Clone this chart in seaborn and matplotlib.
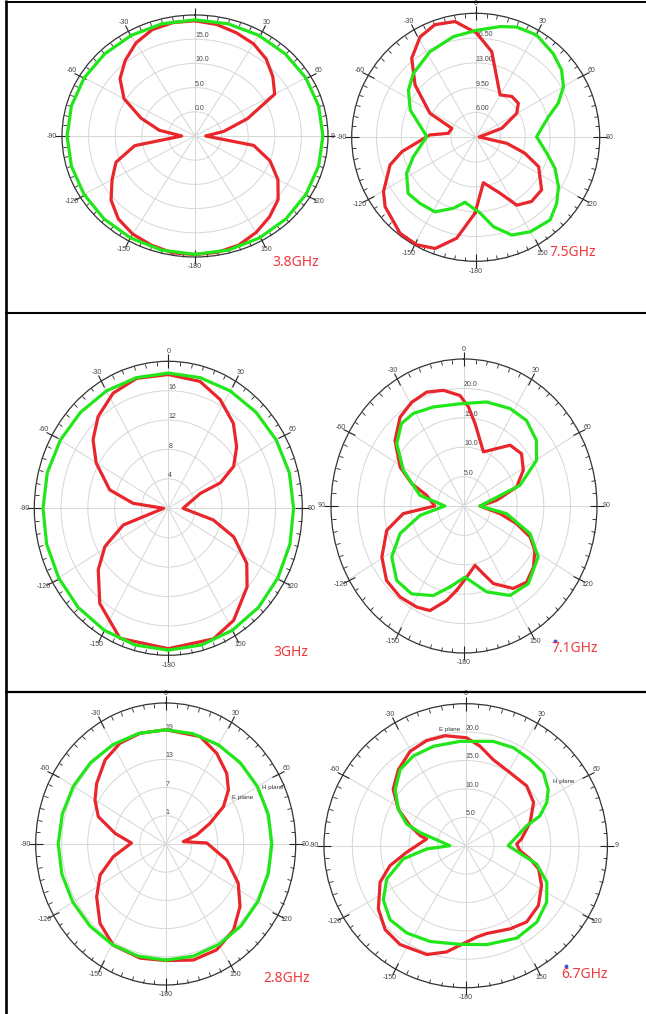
import numpy as np
import matplotlib
matplotlib.use("Agg")
import matplotlib.pyplot as plt
from matplotlib.lines import Line2D
from matplotlib.ticker import FixedLocator
import seaborn as sns

# ---------------- measured radiation patterns (angle in deg, gain in dB) ----------------
# 3.8 GHz
ang_38_e = [-180, -170, -160, -150, -140, -130, -120, -110, -100, -90, -80, -70, -60, -50, -40, -30,
            -20, -10, 0, 10, 20, 30, 40, 50, 60, 70, 80, 90, 100, 110, 120, 130, 140, 150, 160, 170]
gain_38_e = [19.5, 19.5, 19.0, 18.4, 17.4, 15.6, 13.0, 10.8, 6.5, -2.5, 1.8, 5.8, 10.4, 13.4, 15.4, 17.2,
             18.4, 18.8, 18.8, 18.4, 17.7, 17.0, 15.8, 14.1, 12.3, 5.5, 0.5, -3.0, 6.2, 10.0, 13.0, 15.4,
             16.8, 18.0, 19.0, 19.4]
ang_38_h = [-180, -165, -150, -135, -120, -105, -90, -75, -60, -45, -30, -15,
            0, 15, 30, 45, 60, 75, 90, 105, 120, 135, 150, 165]
gain_38_h = [19.45, 19.4, 19.3, 19.2, 19.1, 19.05, 19.05, 19.05, 19.05, 19.0, 19.0, 19.0,
             19.0, 19.0, 19.0, 19.0, 19.05, 19.05, 19.05, 19.05, 19.1, 19.2, 19.3, 19.4]

# 7.5 GHz
ang_75_e = [-179.5, -169.3, -160, -151.3, -141.8, -127.4, -120.5, -107.9, -101, -87.1, -81.7, -69.4,
            -62.3, -49.2, -39, -29, -19.9, -10.1, 0.5, 10.6, 29.9, 41.5, 51.4, 59.7, 70.9, 85,
            101, 108, 115, 128.6, 139, 148.8, 156.5, 170.4]
gain_75_e = [13.2, 17.0, 19.2, 19.8, 19.75, 18.6, 17.6, 15.2, 13.1, 9.0, 6.4, 6.1,
             9.8, 13.8, 16.85, 18.7, 19.4, 19.1, 17.2, 14.8, 9.4, 10.2, 10.2, 9.2, 6.4, 3.0,
             7.0, 9.8, 12.3, 14.4, 14.5, 13.7, 11.1, 9.0]
ang_75_h = [-170.7, -162.5, -151.3, -139.9, -129.7, -117.5, -107.2, -89.2, -67.4, -54.9, -44.2, -28.1,
            -12.5, 0.5, 12.4, 20.4, 30.8, 42.8, 51.9, 60, 67.6, 74.1, 89.4, 102.7, 111.3, 120.8,
            129.2, 138, 150, 159.8, 168.8, 176.7]
gain_75_h = [11.8, 13.0, 14.5, 14.7, 14.9, 13.5, 11.7, 9.4, 12.5, 14.1, 15.1, 16.2,
             17.05, 17.6, 18.5, 19.1, 19.3, 18.6, 17.9, 16.8, 15.1, 13.2, 11.1, 12.8, 14.5, 16.1,
             17.25, 18.2, 17.9, 17.2, 15.35, 13.2]

# 3 GHz
ang_30_e = [-180, -157.8, -141.7, -128.7, -118.8, -108.7, -90, -82.6, -74, -60.2, -50.3, -40, -27.7,
            -15, 0, 15.3, 27.6, 40, 50.6, 59.7, 66, 67, 90, 103.3, 111.7, 122.6, 132.3, 147.4, 159.2]
gain_30_e = [19.1, 19.1, 16.5, 13.4, 10.8, 7.1, 0.7, 5.3, 9.1, 12.4, 14.6, 16.3, 17.7,
             18.3, 18.2, 17.9, 16.7, 15.1, 13.2, 11.3, 8.5, 5.2, 2.2, 6.9, 10.5, 13.9, 15.9, 18.1, 19.0]
ang_30_h = [-180, -165, -150, -135, -120, -105, -90, -75, -60, -45, -30, -15,
            0, 15, 30, 45, 60, 75, 90, 105, 120, 135, 150, 165]
gain_30_h = [19.3, 19.25, 19.15, 19.05, 18.9, 18.8, 18.7, 18.7, 18.6, 18.5, 18.45, 18.4,
             18.4, 18.4, 18.45, 18.5, 18.6, 18.7, 18.7, 18.8, 18.9, 19.05, 19.15, 19.25]

# 7.1 GHz
ang_71_e = [-174.5, -168.5, -160.2, -152.6, -142.2, -131, -119.3, -105.9, -96.5, -90, -75.5, -68.9,
            -61.2, -49.3, -38.5, -29.1, -19.9, -11.1, -2.3, 2.8, 8.4, 15, 21.6, 40, 50.6, 61.4,
            71.9, 81.1, 90, 100.9, 106.9, 113, 119.5, 128.5, 137.7, 146.6, 157.3, 162.5, 168.4, 177.6]
gain_71_e = [14.4, 16.4, 18.9, 19.35, 19.6, 19.3, 17.7, 15.1, 11.5, 5.5, 7.25, 10.5,
             13.7, 17.1, 19.3, 20.2, 20.6, 20.05, 18.8, 16.9, 14.2, 11.6, 9.9, 13.5, 14.0, 12.7,
             10.4, 6.2, 3.0, 6.9, 10.3, 13.5, 15.3, 16.7, 17.5, 16.8, 14.3, 12.1, 10.3, 12.1]
ang_71_h = [-169.2, -159.2, -146.6, -135, -122.5, -111.3, -100.9, -90, -77.6, -62, -50, -40, -31.2,
            -18.9, -2.5, 13.5, 27.6, 38.9, 50.7, 60.3, 71.5, 90, 99.2, 110.8, 121.8, 137.5, 150.4,
            163.8, 179.1]
gain_71_h = [14.0, 16.3, 17.9, 17.9, 16.1, 12.9, 8.4, 3.6, 8.5, 12.9, 16.5, 18.3, 18.4,
             17.8, 17.4, 18.2, 18.7, 18.7, 17.6, 15.7, 11.1, 3.0, 8.1, 13.3, 16.4, 17.9, 17.5,
             15.2, 12.1]

# 2.8 GHz
ang_28_e = [-180, -166.3, -150.6, -138.1, -125.2, -113.5, -102.6, -88.5, -79, -69.5, -60.2, -51, -38,
            -26.2, -14.1, 0, 19.1, 31.4, 43.1, 51.5, 59.2, 66.7, 74.9, 83, 88.7, 103.6, 116.5, 127.8,
            139.5, 152.5, 165.5]
gain_28_e = [19.8, 20.0, 19.7, 17.7, 14.5, 11.5, 7.4, 2.9, 6.9, 11.6, 13.8, 15.5, 17.7,
             18.9, 19.3, 19.3, 19.2, 17.6, 15.6, 13.5, 10.5, 6.1, 2.4, -0.9, 4.5, 9.5, 13.7, 16.7,
             19.1, 20.4, 20.5]
ang_28_h = [-180, -165, -150, -135, -120, -105, -90, -75, -60, -45, -30, -15,
            0, 15, 30, 45, 60, 75, 90, 105, 120, 135, 150, 165]
gain_28_h = [19.7, 19.7, 19.7, 19.7, 19.75, 19.8, 19.8, 19.7, 19.6, 19.5, 19.4, 19.35,
             19.3, 19.3, 19.35, 19.4, 19.45, 19.5, 19.5, 19.5, 19.55, 19.6, 19.65, 19.7]

# 6.7 GHz
ang_67_e = [-176.7, -169.8, -160.3, -146.3, -136.1, -125.8, -113, -104.7, -96.4, -80.3, -77.7, -70.4,
            -61.6, -52.2, -41.5, -30.5, -20.4, -10.6, 0.5, 8.2, 17.8, 31.3, 45.6, 57.5, 70.1, 83.2,
            88.1, 95.2, 101.6, 107.7, 117.6, 129.4, 141.3, 151.8, 166.6, 173.1]
gain_67_e = [17.55, 19.0, 20.35, 20.9, 20.5, 19.0, 16.4, 13.8, 10.5, 7.0, 8.2, 10.4,
             13.5, 16.2, 17.9, 19.3, 19.75, 19.7, 19.0, 17.7, 15.9, 15.05, 15.05, 14.2, 12.1, 9.9,
             9.0, 9.6, 11.6, 13.5, 15.1, 16.6, 17.2, 16.6, 15.9, 16.2]
ang_67_h = [-176.7, -159.5, -145.9, -134.3, -123.3, -112.8, -101.9, -94.8, -90, -73.9, -69.9, -61.6,
            -51.5, -40.8, -30.3, -18, -3.1, 14.8, 26, 36.8, 46.8, 55.8, 62, 68.2, 72, 90, 104.4,
            114.2, 124.8, 137, 151, 168]
gain_67_h = [17.4, 18.0, 18.55, 18.65, 17.4, 15.1, 11.25, 6.9, 2.8, 8.4, 11.1, 13.5,
             15.9, 17.7, 18.3, 18.4, 18.4, 19.0, 19.2, 18.95, 18.8, 17.6, 16.2, 14.1, 11.3, 7.5, 12.9,
             15.7, 17.4, 18.4, 18.6, 17.8]

# ring values / labels of the radial axis
rings_38, ring_lab_38 = [0, 5, 10, 15], ["0.0", "5.0", "10.0", "15.0"]
rings_75, ring_lab_75 = [6, 9.5, 13, 16.5], ["6.00", "9.50", "13.00", "16.50"]
rings_30, ring_lab_30 = [4, 8, 12, 16], ["4", "8", "12", "16"]
rings_71, ring_lab_71 = [5, 10, 15, 20], ["5.0", "10.0", "15.0", "20.0"]
rings_28, ring_lab_28 = [1, 7, 13, 19], ["1", "7", "13", "19"]
rings_67, ring_lab_67 = [5, 10, 15, 20], ["5.0", "10.0", "15.0", "20.0"]

theta_ticks = [0, 30, 60, 90, 120, 150, 180, 210, 240, 270, 300, 330]
theta_labels = ["0", "30", "60", "90", "120", "150", "-180", "-150", "-120", "-90", "-60", "-30"]

# ---------------- figure ----------------
W, H, DPI = 646, 1014, 100
sns.set_style("white")
plt.rcParams["font.family"] = ["Liberation Sans", "DejaVu Sans"]

fig = plt.figure(figsize=(W / DPI, H / DPI), dpi=DPI)
fig.patch.set_facecolor("white")

RED = "#e8262b"
GREEN = "#21e619"
LABEL_RED = "#ef3a3f"

panels = [
    dict(freq="3.8GHz", e=(ang_38_e, gain_38_e), h=(ang_38_h, gain_38_h), rlim=(-5, 20),
         rings=rings_38, ring_lab=ring_lab_38, box=(195, 136, 133, 121), fxy=(296, 262),
         tlabels={0: "", 90: ""}),
    dict(freq="7.5GHz", e=(ang_75_e, gain_75_e), h=(ang_75_h, gain_75_h), rlim=(2.5, 20),
         rings=rings_75, ring_lab=ring_lab_75, box=(475.7, 137.3, 124, 124), fxy=(573, 253),
         tlabels={}),
    dict(freq="3GHz", e=(ang_30_e, gain_30_e), h=(ang_30_h, gain_30_h), rlim=(0, 20),
         rings=rings_30, ring_lab=ring_lab_30, box=(168.3, 508.3, 134, 147), fxy=(291, 652),
         tlabels={}),
    dict(freq="7.1GHz", e=(ang_71_e, gain_71_e), h=(ang_71_h, gain_71_h), rlim=(0, 25),
         rings=rings_71, ring_lab=ring_lab_71, box=(464, 506, 133, 147), fxy=(575, 649),
         tlabels={270: "90"}),
    dict(freq="2.8GHz", e=(ang_28_e, gain_28_e), h=(ang_28_h, gain_28_h), rlim=(-5, 25),
         rings=rings_28, ring_lab=ring_lab_28, box=(165.7, 844, 130, 141), fxy=(287, 978),
         tlabels={}),
    dict(freq="6.7GHz", e=(ang_67_e, gain_67_e), h=(ang_67_h, gain_67_h), rlim=(0, 25),
         rings=rings_67, ring_lab=ring_lab_67, box=(465.7, 845.7, 141.7, 142), fxy=(585, 974),
         tlabels={90: "9"}),
]


def closed(a, g):
    a = list(a) + [a[0] + 360]
    g = list(g) + [g[0]]
    return np.deg2rad(a), np.asarray(g)


for p in panels:
    cx, cy, rx, ry = p["box"]
    ax = fig.add_axes([(cx - rx) / W, 1 - (cy + ry) / H, 2 * rx / W, 2 * ry / H],
                      projection="polar")
    ax.set_theta_zero_location("N")
    ax.set_theta_direction(-1)
    ax.patch.set_alpha(0)

    for (a, g), col in ((p["e"], RED), (p["h"], GREEN)):
        th, rr = closed(a, g)
        sns.lineplot(x=th, y=rr, ax=ax, sort=False, estimator=None, color=col,
                     linewidth=2.3, zorder=4)

    ax.set_aspect("auto")
    ax.set_xlim(0, 2 * np.pi)
    ax.set_ylim(*p["rlim"])
    ax.set_xlabel("")
    ax.set_ylabel("")

    labels = [p["tlabels"].get(t, lab) for t, lab in zip(theta_ticks, theta_labels)]
    ax.set_xticks(np.deg2rad(theta_ticks))
    ax.set_xticklabels(labels, fontsize=5, color="#444444")
    ax.xaxis.set_minor_locator(FixedLocator(np.deg2rad(np.arange(0, 360, 5))))
    ax.tick_params(axis="x", which="both", bottom=False, top=True, labelbottom=True,
                   labeltop=False, color="#222222")
    ax.tick_params(axis="x", which="major", direction="inout", length=5, width=0.8, pad=-2.5)
    ax.tick_params(axis="x", which="minor", direction="in", length=3, width=0.6)

    ax.set_yticks(p["rings"])
    ax.set_yticklabels([])
    ax.tick_params(axis="y", left=False, right=False)
    ax.grid(True, color="#d6d6d6", linewidth=0.7)
    ax.spines["polar"].set_color("#333333")
    ax.spines["polar"].set_linewidth(0.9)

    for rv, lab in zip(p["rings"], p["ring_lab"]):
        ax.text(0, rv, lab, ha="left", va="bottom", fontsize=5, color="#444444", zorder=3)

    fx, fy = p["fxy"]
    fig.text(fx / W, 1 - fy / H, p["freq"], ha="center", va="center", fontsize=10,
             color=LABEL_RED, family=["Noto Sans", "DejaVu Sans"])

# right-hand angle mark of the 3.8 GHz panel, partly hidden by its neighbour
fig.text(333 / W, 1 - 137 / H, "9", ha="center", va="center", fontsize=5, color="#444444")

# plane annotations
for (x, y, s) in [(243, 797, "E plane"), (273, 787, "H plane"),
                  (450, 729, "E plane"), (564, 781, "H plane")]:
    fig.text(x / W, 1 - y / H, s, ha="center", va="center", fontsize=4.5, color="#333333")

# small blue markers beside two frequency labels
for (x, y) in [(555, 641), (566, 966)]:
    fig.add_artist(Line2D([x / W], [1 - y / H], marker="o", markersize=1.8, color="#3a55d8",
                          transform=fig.transFigure))


# table frame
def hline(y, x0, x1, lw):
    fig.add_artist(Line2D([x0 / W, x1 / W], [1 - y / H, 1 - y / H], color="black",
                          linewidth=lw, transform=fig.transFigure, solid_capstyle="butt"))


def vline(x, y0, y1, lw):
    fig.add_artist(Line2D([x / W, x / W], [1 - y0 / H, 1 - y1 / H], color="black",
                          linewidth=lw, transform=fig.transFigure, solid_capstyle="butt"))


hline(1.5, 5, 646, 1.4)
hline(312.5, 5, 646, 1.5)
hline(692, 5, 646, 1.6)
vline(5.5, 0, 1014, 1.9)

fig.savefig("out.png", dpi=DPI)
